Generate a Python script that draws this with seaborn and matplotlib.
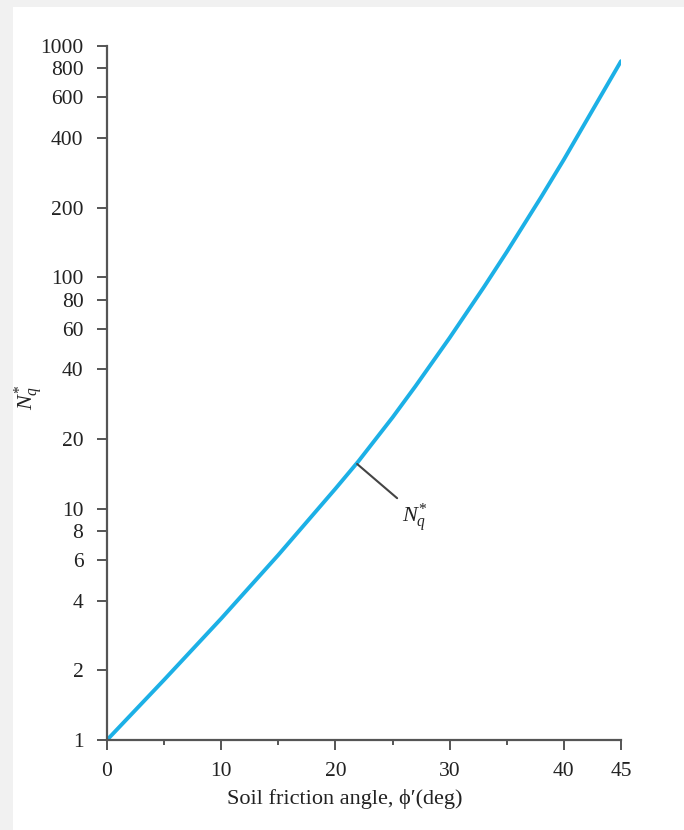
import matplotlib
matplotlib.use("Agg")
import matplotlib.pyplot as plt
import matplotlib.patches as mpatches
from matplotlib.ticker import FixedLocator, NullLocator, FixedFormatter
import seaborn as sns
import pandas as pd

# ---- data ----
phi = [0, 5, 10, 15, 20, 22, 25, 27, 30, 33, 35, 38, 40, 42, 45]
nq_star = [1.0, 1.82, 3.35, 6.31, 12.2, 16.0, 24.8, 33.8, 54.8, 90.8, 128.8, 222.0, 323.0, 478.0, 860.0]
y_ticks = [1, 2, 4, 6, 8, 10, 20, 40, 60, 80, 100, 200, 400, 600, 800, 1000]
y_tick_labels = ["1", "2", "4", "6", "8", "10", "20", "40", "60", "80", "100", "200", "400", "600", "800", "1000"]
x_major = [0, 10, 20, 30, 40, 45]
x_minor = [5, 15, 25, 35]
x_tick_labels = ["0", "10", "20", "30", "40", "45"]
annot_point = (21.9, 15.6)
annot_text_pos = (25.4, 11.1)

df = pd.DataFrame({"phi": phi, "Nq": nq_star})

sns.set_style("ticks")
plt.rcParams["font.family"] = ["Liberation Serif", "DejaVu Serif"]
plt.rcParams["mathtext.fontset"] = "custom"
plt.rcParams["mathtext.it"] = "Liberation Serif:italic"
plt.rcParams["mathtext.rm"] = "Liberation Serif"

fig = plt.figure(figsize=(6.84, 8.30), dpi=100)
fig.patch.set_facecolor("#f1f1f1")
fig.patches.append(mpatches.Rectangle((13 / 684, 0), 1, 1 - 7 / 830, transform=fig.transFigure,
                                      facecolor="white", edgecolor="none", zorder=-10))

ax = fig.add_axes([107 / 684, 1 - 740 / 830, (621 - 107) / 684, (740 - 46) / 830])
ax.set_facecolor("none")

sns.lineplot(data=df, x="phi", y="Nq", ax=ax, color="#1cb0e6", linewidth=2.8)

ax.set_yscale("log")
ax.set_xlim(0, 45)
ax.set_ylim(1, 1000)

ax.yaxis.set_major_locator(FixedLocator(y_ticks))
ax.yaxis.set_major_formatter(FixedFormatter(y_tick_labels))
ax.yaxis.set_minor_locator(NullLocator())
ax.xaxis.set_major_locator(FixedLocator(x_major))
ax.xaxis.set_major_formatter(FixedFormatter(x_tick_labels))
ax.xaxis.set_minor_locator(FixedLocator(x_minor))

for s in ["top", "right"]:
    ax.spines[s].set_visible(False)
for s in ["left", "bottom"]:
    ax.spines[s].set_color("#555555")
    ax.spines[s].set_linewidth(1.6)

ax.tick_params(axis="both", which="major", direction="out", length=7, width=1.4,
               color="#555555", labelsize=15.5, labelcolor="#222222")
ax.tick_params(axis="x", which="major", pad=9)
ax.tick_params(axis="x", which="minor", direction="out", length=3.5, width=1.4, color="#555555")
ax.tick_params(axis="y", which="major", pad=10)

ax.set_xlabel("Soil friction angle, \u03d5\u2032(deg)", fontsize=16, color="#222222")
ax.xaxis.set_label_coords(0.463, -0.070)
ax.set_ylabel(r"$N_q^{*}$", fontsize=16, color="#222222")
ax.yaxis.set_label_coords(-0.12, 0.494)

ax.annotate("", xy=annot_point, xytext=annot_text_pos,
            arrowprops=dict(arrowstyle="-", color="#444444", lw=1.5, shrinkA=0, shrinkB=0))
ax.text(annot_text_pos[0] + 0.4, annot_text_pos[1] * 0.97, r"$N_q^{*}$", fontsize=16,
        color="#222222", ha="left", va="top")

ax.grid(False)
fig.savefig("out.png", dpi=100, facecolor=fig.get_facecolor())
